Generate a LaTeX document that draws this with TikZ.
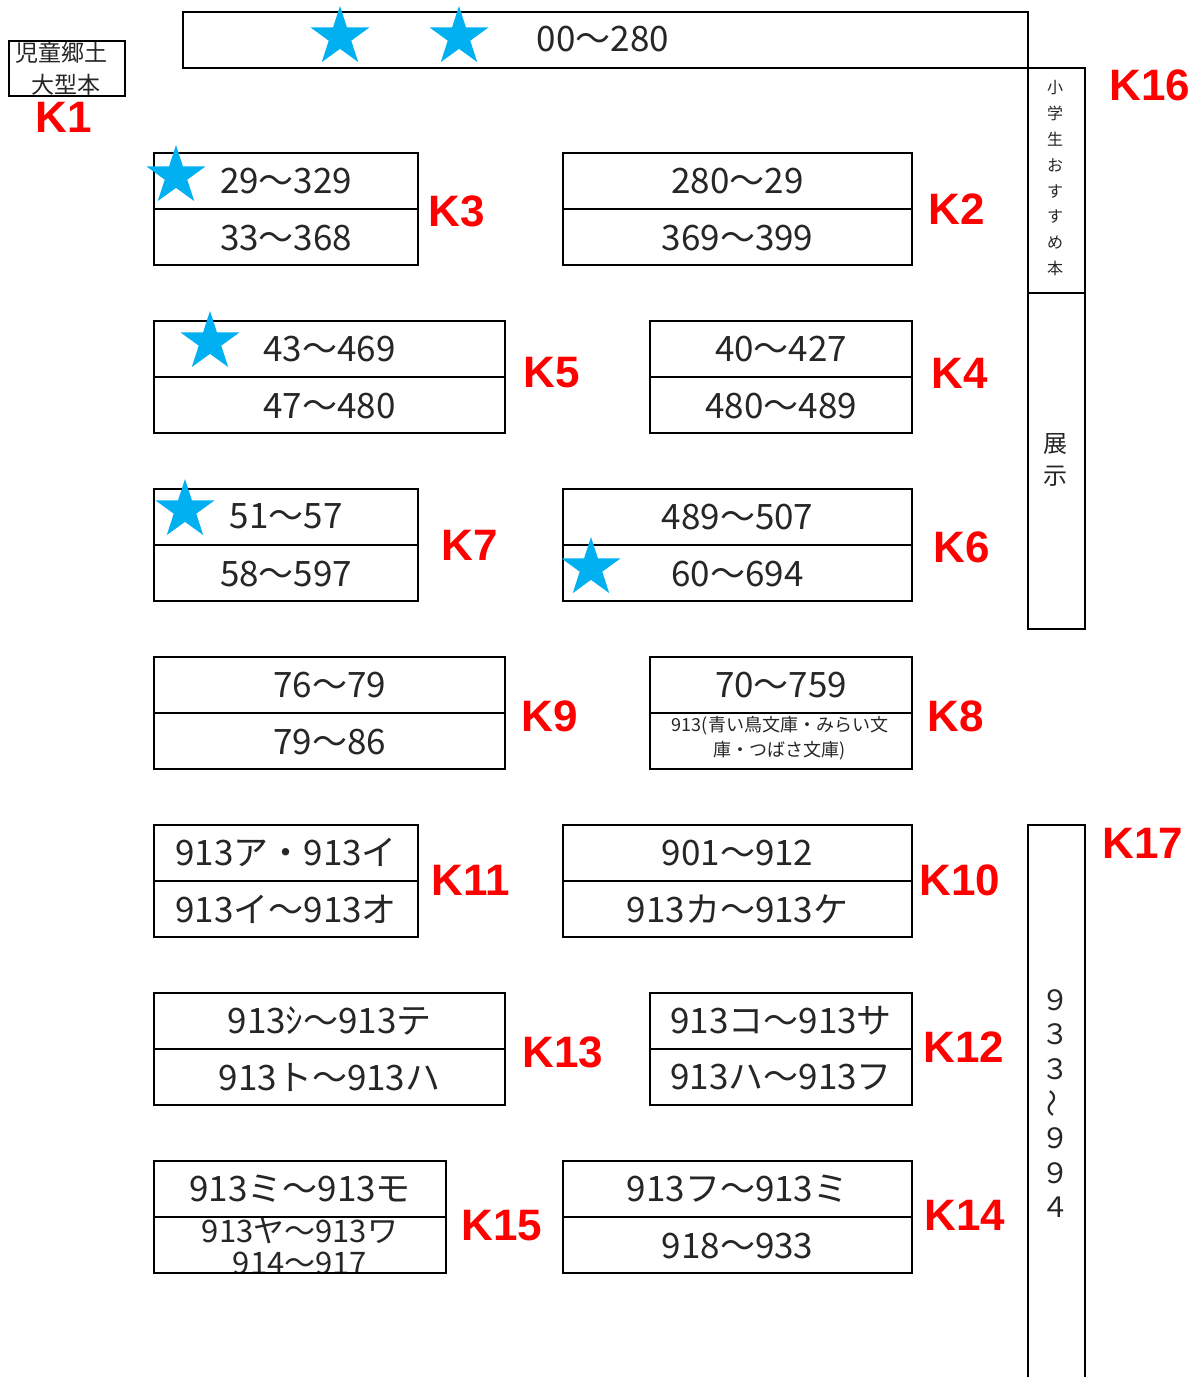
\documentclass[tikz,border=0pt]{standalone}
\usepackage{fontspec}
\setmainfont{Noto Sans CJK JP}
\newfontfamily\jp{Noto Sans CJK JP}
\newfontfamily\kl{Liberation Sans}
\usetikzlibrary{shapes.geometric,calc}
\definecolor{starblue}{HTML}{00B0F0}
\definecolor{txt}{HTML}{262626}
% name, x1, x2, y1, top text, bottom text
\newcommand{\twobox}[6]{%
  \node[box, minimum width=#3-#2, minimum height=112] (#1) at (#2,#4) {};
  \draw[ln] (#1.west) -- (#1.east);
  \node[lbl] (#1t) at ($(#1.north)!0.25!(#1.south)$) {#5};
  \node[lbl] (#1b) at ($(#1.north)!0.75!(#1.south)$) {#6};
}
\begin{document}
\begin{tikzpicture}[x=1pt,y=-1pt,
  ln/.style={line width=2.2pt, black},
  box/.style={draw, ln, inner sep=0pt, anchor=north west},
  lbl/.style={font=\jp\fontsize{35}{35}\selectfont, text=txt, inner sep=0pt},
  small/.style={font=\jp\fontsize{#1}{#1}\selectfont, text=txt, inner sep=0pt},
  klbl/.style={font=\kl\bfseries\fontsize{44}{44}\selectfont, text=red, inner sep=0pt},
  starmark/.style={star, star points=5, star point ratio=2.618, fill=starblue, draw=none, minimum size=62pt, inner sep=0pt},
]
\useasboundingbox (0,0) rectangle (1195,1377);
\fill[white] (0,0) rectangle (1195,1377);

% top shelf
\node[box, minimum width=845, minimum height=56] (top) at (182,11) {};
\node[lbl] (topt) at (603,39) {00～280};

% K1
\begin{scope}
  \clip (8,40) rectangle (124,95);
  \node[small=23] (k1a) at (62,53) {児童郷土};
  \node[small=23] (k1b) at (66,85) {大型本};
\end{scope}
\node[box, minimum width=116, minimum height=55] (k1box) at (8,40) {};

% two-tier shelves
\twobox{k3}{153}{417}{152}{29～329}{33～368}
\twobox{k2}{562}{911}{152}{280～29}{369～399}
\twobox{k5}{153}{504}{320}{43～469}{47～480}
\twobox{k4}{649}{911}{320}{40～427}{480～489}
\twobox{k7}{153}{417}{488}{51～57}{58～597}
\twobox{k6}{562}{911}{488}{489～507}{60～694}
\twobox{k9}{153}{504}{656}{76～79}{79～86}
\twobox{k8}{649}{911}{656}{70～759}{}
\node[small=18, align=center, font=\jp\fontsize{18}{25}\selectfont] (k8c) at (780,738) {913(青い鳥文庫・みらい文\\庫・つばさ文庫)};
\twobox{k11}{153}{417}{824}{913ア・913イ}{913イ～913オ}
\twobox{k10}{562}{911}{824}{901～912}{913カ～913ケ}
\twobox{k13}{153}{504}{992}{913ｼ～913テ}{913ト～913ハ}
\twobox{k12}{649}{911}{992}{913コ～913サ}{913ハ～913フ}
\twobox{k14}{562}{911}{1160}{913フ～913ミ}{918～933}
% K15 (overflowing text)
\begin{scope}
  \clip (153,1216) rectangle (445,1272);
  \node[lbl, font=\jp\fontsize{31}{31}\selectfont] (k15c) at (300,1231) {913ヤ～913ワ};
  \node[lbl, font=\jp\fontsize{31}{31}\selectfont] (k15d) at (300,1263) {914～917};
\end{scope}
\twobox{k15}{153}{445}{1160}{913ミ～913モ}{}

% right side columns
\node[box, minimum width=57, minimum height=225] (k16) at (1027,67) {};
\node[box, minimum width=57, minimum height=336] (ex) at (1027,292) {};
\node[box, minimum width=57, minimum height=600] (k17) at (1027,824) {};
\foreach \c [count=\i from 0] in {小,学,生,お,す,す,め,本}
  \node[small=16] (k16c\i) at (1055,88+25.8*\i) {\c};
\node[small=24] (ex1) at (1055,444) {展};
\node[small=24] (ex2) at (1055,476) {示};
\foreach \c/\i in {９/0,３/1,３/2,９/4,９/5,４/6}
  \node[small=28] (k17c\i) at (1055,1000+34.6*\i) {\c};
\node[small=28, rotate=90] (k17c3) at (1055,1000+34.6*3) {～};

% stars
\node[starmark] (s1) at (340,37) {};
\node[starmark] (s2) at (459,37) {};
\node[starmark] (s3) at (176,176) {};
\node[starmark] (s4) at (210,342) {};
\node[starmark] (s5) at (185,510) {};
\node[starmark] (s6) at (591,568) {};

% red labels
\node[klbl] (K1) at (64,117) {K1};
\node[klbl] (K3) at (457,211) {K3};
\node[klbl] (K2) at (957,209) {K2};
\node[klbl] (K5) at (552,373) {K5};
\node[klbl] (K4) at (960,373) {K4};
\node[klbl] (K7) at (470,545) {K7};
\node[klbl] (K6) at (962,547) {K6};
\node[klbl] (K9) at (550,716) {K9};
\node[klbl] (K8) at (956,716) {K8};
\node[klbl] (K11) at (471,880) {K11};
\node[klbl] (K10) at (960,880) {K10};
\node[klbl] (K13) at (563,1052) {K13};
\node[klbl] (K12) at (964,1047) {K12};
\node[klbl] (K15) at (502,1226) {K15};
\node[klbl] (K14) at (965,1215) {K14};
\node[klbl] (K16) at (1150,85) {K16};
\node[klbl] (K17) at (1143,843) {K17};
\end{tikzpicture}
\end{document}
